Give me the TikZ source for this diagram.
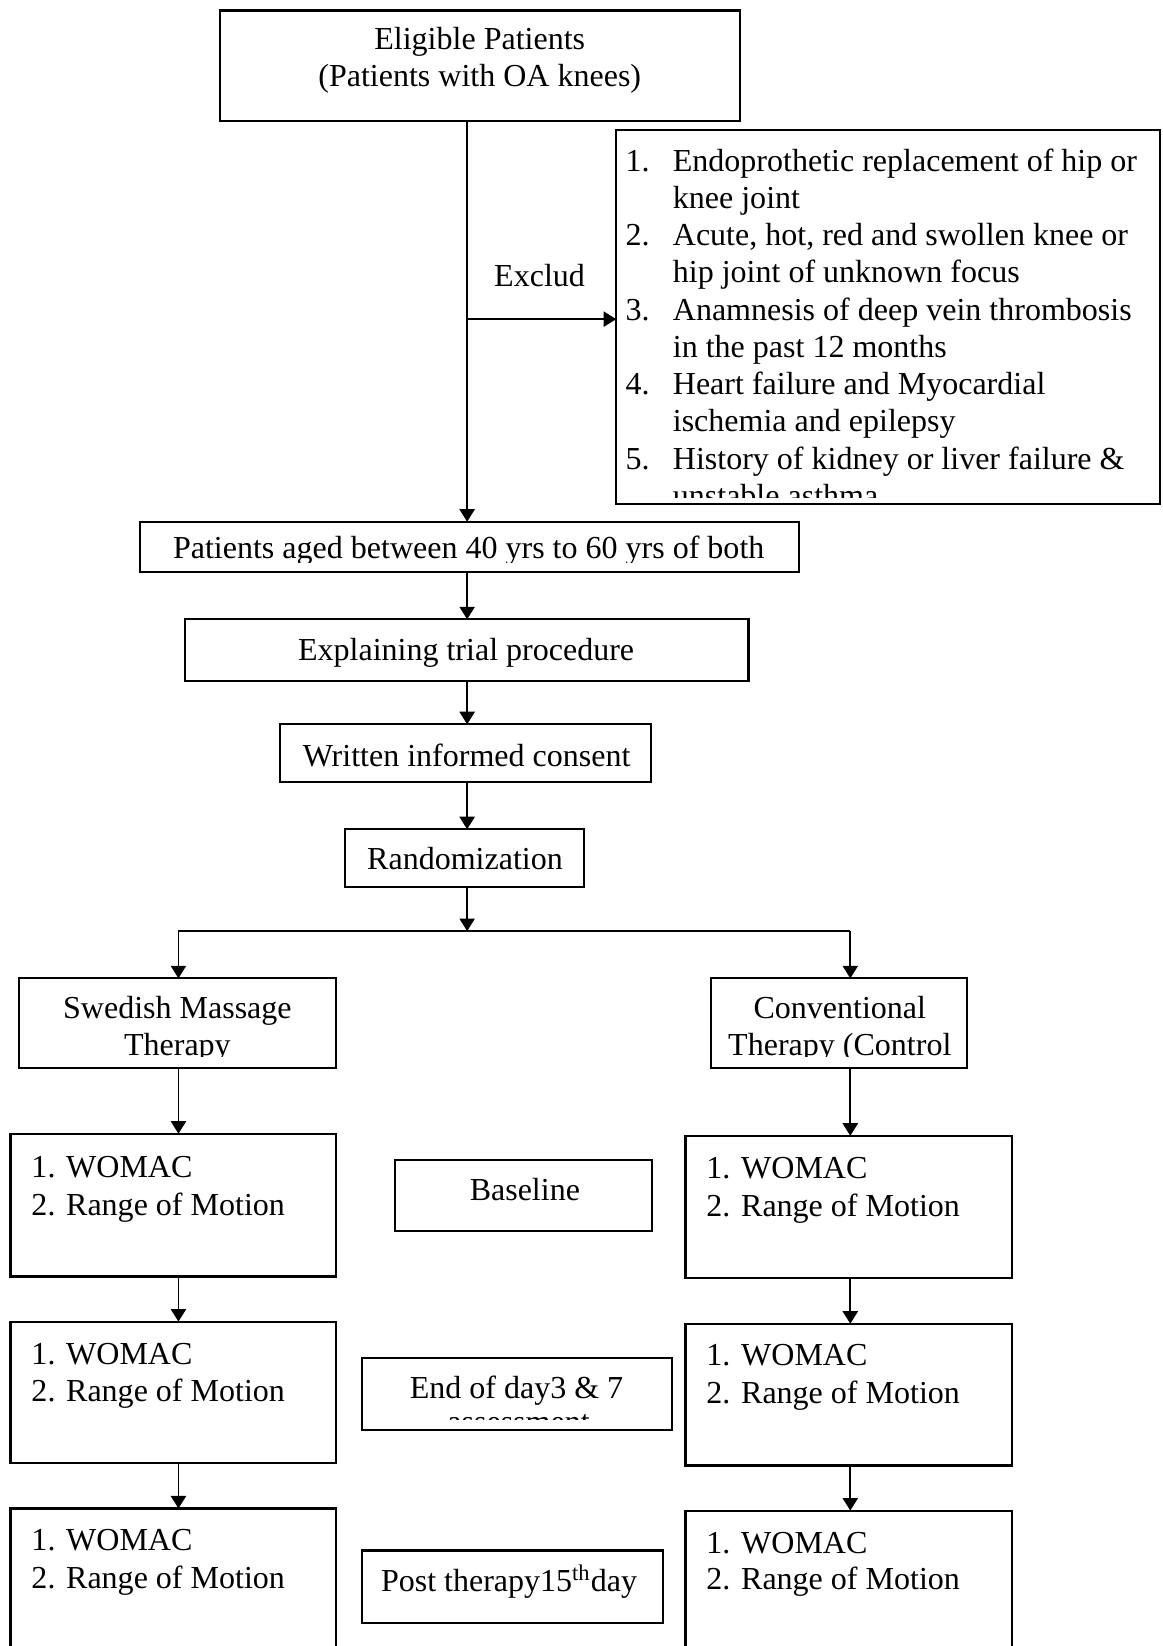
\documentclass[tikz,border=0pt]{standalone}
\usepackage{fontspec}
\setmainfont{Liberation Serif}
\usetikzlibrary{arrows.meta}
\newcommand\bx[5]{\node[box,minimum width={(#4-#2)*0.4pt},minimum height={(#5-#3)*0.4pt}] (#1) at ({(#2+#4)/2},{(#3+#5)/2}) {};}
\begin{document}
\begin{tikzpicture}[x=0.4pt,y=-0.4pt,
  box/.style={draw,line width=0.8pt,inner sep=0pt,outer sep=0pt},
  txt/.style={inner sep=0pt,outer sep=0pt,font=\fontsize{12.2}{14}\selectfont},
  arr/.style={line width=0.65pt,-{Triangle[length=4.8pt,width=5.8pt]}},
  ln/.style={line width=0.65pt}]
\useasboundingbox (0,0) rectangle (1107,1568);
\clip (0,0) rectangle (1107,1568);
% boxes
\bx{elig}{210}{10}{705}{115}
\bx{exbox}{587}{124}{1105}{480}
\bx{aged}{133}{497}{761}{545}
\bx{expl}{176}{590}{713}{649}
\bx{cons}{267}{690}{620}{745}
\bx{rand}{329}{790}{556}{845}
\bx{swe}{18}{932}{320}{1017}
\bx{conv}{677}{932}{921}{1017}
\bx{la}{10}{1080}{320}{1216}
\bx{ra}{653}{1082}{964}{1217}
\bx{base}{376}{1105}{621}{1173}
\bx{lb}{10}{1259}{320}{1394}
\bx{rb}{653}{1261}{964}{1396}
\bx{endd}{345}{1294}{640}{1362}
\bx{lc}{10}{1437}{320}{1600}
\bx{rc}{653}{1439}{964}{1600}
\bx{post}{345}{1477}{632}{1546}
% connectors
\coordinate (tx) at (445,0);
\coordinate (br) at (445,304);
\coordinate (split) at (445,887);
\coordinate (sl) at (170,887);
\coordinate (sr) at (810,887);
\draw[arr] (elig.south -| tx) -- (aged.north -| tx);
\draw[arr] (br) -- (br -| exbox.west);
\draw[arr] (aged.south -| tx) -- (expl.north -| tx);
\draw[arr] (expl.south -| tx) -- (cons.north -| tx);
\draw[arr] (cons.south -| tx) -- (rand.north -| tx);
\draw[arr] (rand.south -| tx) -- (split);
\draw[ln] (sl) -- (sr);
\draw[arr] (sl) -- (swe.north -| sl);
\draw[arr] (sr) -- (conv.north -| sr);
\draw[arr] (swe.south -| sl) -- (la.north -| sl);
\draw[arr] (la.south -| sl) -- (lb.north -| sl);
\draw[arr] (lb.south -| sl) -- (lc.north -| sl);
\draw[arr] (conv.south -| sr) -- (ra.north -| sr);
\draw[arr] (ra.south -| sr) -- (rb.north -| sr);
\draw[arr] (rb.south -| sr) -- (rc.north -| sr);
% texts
\node[txt,anchor=base] (e1) at (457,47) {Eligible Patients};
\node[txt,anchor=base] (e2) at (457,82) {(Patients with OA knees)};
\node[txt,anchor=base] (exl) at (514,273) {Exclud};
\begin{scope}
\clip (587,124) rectangle (1105,474);
\node[txt,anchor=base west] (n1) at (596,163) {1.};
\node[txt,anchor=base west] (x1a) at (641,163) {Endoprothetic replacement of hip or};
\node[txt,anchor=base west] (x1b) at (641,198.5) {knee joint};
\node[txt,anchor=base west] (n2) at (596,234) {2.};
\node[txt,anchor=base west] (x2a) at (641,234) {Acute, hot, red and swollen knee or};
\node[txt,anchor=base west] (x2b) at (641,269.5) {hip joint of unknown focus};
\node[txt,anchor=base west] (n3) at (596,305) {3.};
\node[txt,anchor=base west] (x3a) at (641,305) {Anamnesis of deep vein thrombosis};
\node[txt,anchor=base west] (x3b) at (641,340.5) {in the past 12 months};
\node[txt,anchor=base west] (n4) at (596,376) {4.};
\node[txt,anchor=base west] (x4a) at (641,376) {Heart failure and Myocardial};
\node[txt,anchor=base west] (x4b) at (641,411.5) {ischemia and epilepsy};
\node[txt,anchor=base west] (n5) at (596,447) {5.};
\node[txt,anchor=base west] (x5a) at (641,447) {History of kidney or liver failure \&};
\node[txt,anchor=base west] (x5b) at (641,482.5) {unstable asthma};
\end{scope}
\begin{scope}
\clip (133,497) rectangle (761,536);
\node[txt,anchor=base] (agedt) at (446.5,532) {Patients aged between 40 yrs to 60 yrs of both};
\end{scope}
\node[txt,anchor=base] (explt) at (444,629.5) {Explaining trial procedure};
\node[txt,anchor=base] (const) at (444.5,730) {Written informed consent};
\node[txt,anchor=base] (randt) at (443,828) {Randomization};
\begin{scope}
\clip (18,932) rectangle (921,1006);
\node[txt,anchor=base] (swe1) at (169,970) {Swedish Massage};
\node[txt,anchor=base] (swe2) at (169,1005) {Therapy};
\node[txt,anchor=base] (conv1) at (800,970) {Conventional};
\node[txt,anchor=base] (conv2) at (800,1005) {Therapy (Control};
\end{scope}
\node[txt,anchor=base west] (la1) at (30,1122) {1. WOMAC};
\node[txt,anchor=base west] (la2) at (30,1158) {2. Range of Motion};
\node[txt,anchor=base west] (ra1) at (673,1123) {1. WOMAC};
\node[txt,anchor=base west] (ra2) at (673,1159) {2. Range of Motion};
\node[txt,anchor=base west] (lb1) at (30,1299.5) {1. WOMAC};
\node[txt,anchor=base west] (lb2) at (30,1335) {2. Range of Motion};
\node[txt,anchor=base west] (rb1) at (673,1301) {1. WOMAC};
\node[txt,anchor=base west] (rb2) at (673,1337) {2. Range of Motion};
\node[txt,anchor=base west] (lc1) at (30,1477) {1. WOMAC};
\node[txt,anchor=base west] (lc2) at (30,1513) {2. Range of Motion};
\node[txt,anchor=base west] (rc1) at (673,1479.5) {1. WOMAC};
\node[txt,anchor=base west] (rc2) at (673,1514.5) {2. Range of Motion};
\node[txt,anchor=base] (baset) at (500,1144) {Baseline};
\node[txt,anchor=base] (endt) at (492,1332) {End of day3 \& 7};
\begin{scope}
\clip (345,1294) rectangle (640,1352);
\node[txt,anchor=base] (endt2) at (494,1365) {assessment};
\end{scope}
\node[txt,anchor=base] (postt) at (485,1516) {Post therapy15\textsuperscript{th}day};
\end{tikzpicture}
\end{document}
